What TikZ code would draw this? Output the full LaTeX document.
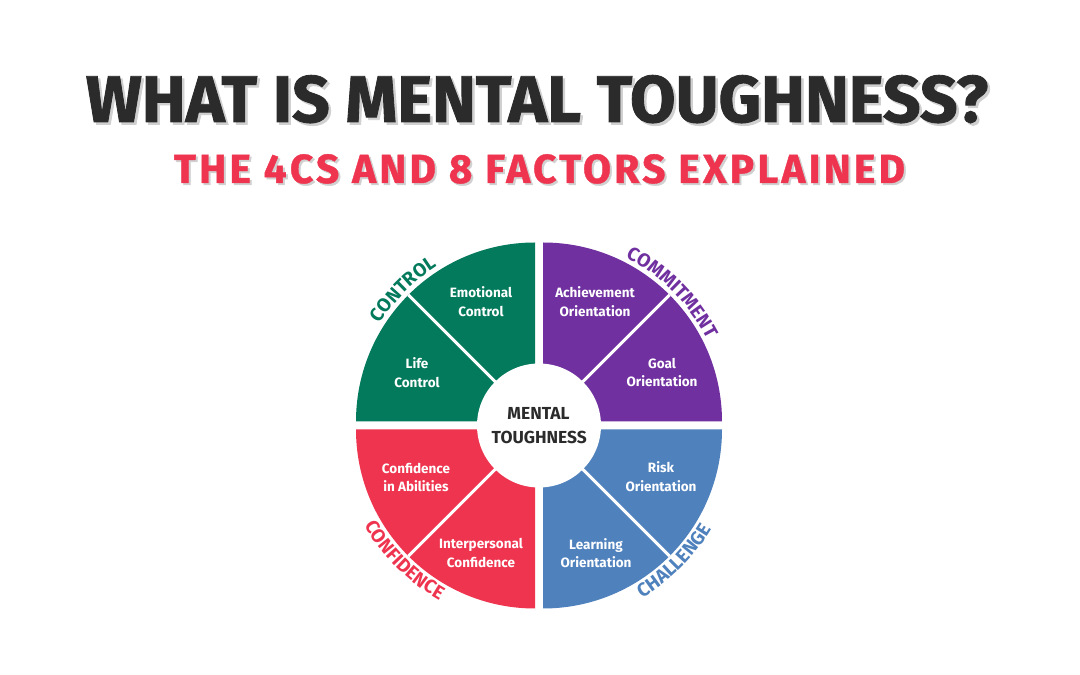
\documentclass[tikz,border=0pt]{standalone}
\usepackage{fontspec}
\setmainfont{Fira Sans}
\newfontfamily\titlefam{Fira Sans}[BoldFeatures={FakeBold=1.3}]
\newfontfamily\subfam{Fira Sans}[BoldFeatures={FakeBold=1.0,LetterSpace=8}]
\usetikzlibrary{decorations.text,calc}
\definecolor{ctrl}{HTML}{037A5C}
\definecolor{comm}{HTML}{7030A0}
\definecolor{conf}{HTML}{EE344E}
\definecolor{chal}{HTML}{4F81BD}
\definecolor{ink}{HTML}{2B2B2B}
\definecolor{shade}{HTML}{D0D0D0}
\newcommand\labfont{\bfseries\fontsize{19}{19}\selectfont}
\tikzset{
  quadtext/.style={align=center, text=white, font=\bfseries\fontsize{13.5}{18.5}\selectfont, inner sep=0pt},
  midtext/.style={anchor=base, text=ink, font=\bfseries\fontsize{17.4}{17.4}\selectfont, inner sep=0pt},
  sep/.style={draw=white, line width=3pt},
  titletext/.style={anchor=base, inner sep=0pt, font=\titlefam\bfseries\fontsize{66}{66}\selectfont},
  subtext/.style={anchor=base, inner sep=0pt, font=\subfam\bfseries\fontsize{40.6}{40.6}\selectfont},
}
\begin{document}
\begin{tikzpicture}[x=1pt,y=1pt]
\fill[white] (0,0) rectangle (1080,675);
\useasboundingbox (0,0) rectangle (1080,675);
% titles
\node[titletext, text=shade] (titleshadow) at (539.5,550.5) {WHAT IS MENTAL TOUGHNESS?};
\node[titletext, text=ink] (title) at (537,553) {WHAT IS MENTAL TOUGHNESS?};
\node[subtext, text=shade] (subshadow) at (541.5,490) {THE 4CS AND 8 FACTORS EXPLAINED};
\node[subtext, text=conf] (sub) at (539.5,492) {THE 4CS AND 8 FACTORS EXPLAINED};
% wheel
\coordinate (c) at (539,249.5);
\coordinate (cg) at ($(c)+(-4,4)$);
\coordinate (cp) at ($(c)+(4,4)$);
\coordinate (cr) at ($(c)+(-4,-4)$);
\coordinate (cb) at ($(c)+(4,-4)$);
\fill[ctrl] (cg) -- ++(-179,0) arc[start angle=180,end angle=90,radius=179] -- cycle;
\fill[comm] (cp) -- ++(0,179) arc[start angle=90,end angle=0,radius=179] -- cycle;
\fill[conf] (cr) -- ++(-179,0) arc[start angle=180,end angle=270,radius=179] -- cycle;
\fill[chal] (cb) -- ++(0,-179) arc[start angle=270,end angle=360,radius=179] -- cycle;
\draw[sep] (cg) -- ++(135:179);
\draw[sep] (cp) -- ++(45:179);
\draw[sep] (cr) -- ++(225:179);
\draw[sep] (cb) -- ++(315:179);
\fill[white] (c) circle[radius=62];
% centre
\node[midtext] (mental) at (538.5,255.7) {MENTAL};
\node[midtext] (tough) at (539.3,231) {TOUGHNESS};
% factors
\node[quadtext] (emo) at (481,373.3) {Emotional\\Control};
\node[quadtext] (life) at (417,302.5) {Life\\Control};
\node[quadtext] (ach) at (595,373.5) {Achievement\\Orientation};
\node[quadtext] (goal) at (662,302.5) {Goal\\Orientation};
\node[quadtext] (cia) at (416,197.5) {Confidence\\in Abilities};
\node[quadtext] (inter) at (481,122) {Interpersonal\\Confidence};
\node[quadtext] (risk) at (661,198.5) {Risk\\Orientation};
\node[quadtext] (learn) at (596,122) {Learning\\Orientation};
% curved category labels
\path[decorate, decoration={text along path, text align=center, text color=ctrl, text={|\labfont|CONTROL}}]
  ($(c)+(175:189)$) arc[start angle=175,end angle=95,radius=189];
\path[decorate, decoration={text along path, text align=center, text color=comm, text={|\labfont|COMMITMENT}}]
  ($(c)+(85:189)$) arc[start angle=85,end angle=5,radius=189];
\path[decorate, decoration={text along path, text align=center, text color=conf, text={|\labfont|CONFIDENCE}}]
  ($(c)+(185:201)$) arc[start angle=185,end angle=265,radius=201];
\path[decorate, decoration={text along path, text align=center, text color=chal, text={|\labfont|CHALLENGE}}]
  ($(c)+(275:201)$) arc[start angle=275,end angle=355,radius=201];
\end{tikzpicture}
\end{document}
